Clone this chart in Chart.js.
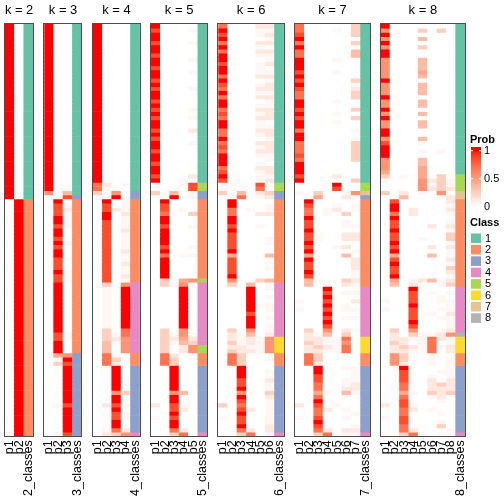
<!DOCTYPE html>
<html>
<head>
<meta charset="utf-8">
<script src="https://cdn.jsdelivr.net/npm/chart.js@4.4.1/dist/chart.umd.min.js"></script>
<style>
  html, body { margin: 0; padding: 0; background: #fff; }
  #wrap { position: relative; width: 504px; height: 504px; }
  #wrap canvas { position: absolute; left: 0; top: 0; }
</style>
</head>
<body>
<div id="wrap"></div>
<script>
// ---- data ----
// each row string holds one digit per column p1..pk, digit indexes PROB_LEVELS
// "pattern*n" means the row repeats n times
const PROB_LEVELS = [0, 0.04, 0.12, 0.25, 0.35, 0.45, 0.55, 0.7, 0.85, 1];
const N_ROWS = 99;

const classes_k2 = "111111111111111111111111111111111111111111" + "222222222222222222222222222222222222222222222222222222222";
const classes_k3 = "11111111111111111111111111111111111111111" + "3" + "2222222222222222222222222222222222222" + "33333333333333333333";
const classes_k4 = "1111111111111111111111111111111111111111" + "33" + "22222222222222222222" + "44444444444444444" + "222" + "3333333333333333" + "4";
const classes_k5 = "11111111111111111111111111111111111111" + "55" + "33" + "2222222222222222222" + "5" + "444444444444444" + "55" + "222" + "3333333333333333" + "4";
const classes_k6 = "11111111111111111111111111111111111111" + "55" + "33" + "22222222222222222222" + "4444444444444" + "6666" + "222" + "3333333333333333" + "4";
const classes_k7 = "11111111111111111111111111111111111111" + "55" + "7" + "3" + "222222222222222222222" + "444444444444" + "6666" + "222" + "3333333333333333" + "4";
const classes_k8 = "111111111111111111111111111111111111" + "5555" + "77" + "222222222222222222222" + "44444444444" + "8" + "6666" + "222" + "3333333333333333" + "4";

const probs_k2 = ["90*42", "09*57"];

const probs_k3 = [
  "900*40", "604", "008",
  "090", "081", "082", "081", "091", "091", "081", "090", "090", "080",
  "091", "080", "090", "090", "081", "080", "080", "091", "081", "081",
  "090*12",
  "081", "081", "090", "090", "090",
  "056", "019", "038",
  "009*9", "018", "009*6", "018"
];

const probs_k4 = [
  "9000*38", "7201", "7100", "3060", "0090",
  "0901", "0801", "0821", "0902", "0901", "0801", "0801", "0802", "0801", "0801",
  "0801", "0801", "0802", "0801", "0801", "0802", "0801", "0801", "0802", "0801",
  "0306",
  "0109*10",
  "0307", "0317", "0326", "0416", "0406", "0406",
  "0710", "0730", "0720",
  "0090*6",
  "0063", "0090", "0090", "0281", "0090", "0081", "0081", "0090", "0090", "0172",
  "0236"
];

const probs_k5 = [
  "90000", "80001", "90000", "90000", "80001", "90000", "90000", "80000", "90001", "90000",
  "80000", "90001", "90000", "80000", "90000", "80001", "90000", "90000", "80000", "90000",
  "80001", "90000", "80001", "90000", "90000", "80002", "90000", "80000", "90001", "90000",
  "80000", "90000", "90000", "80000", "90000", "90000", "80002", "90010",
  "10018", "10008", "30401", "00901",
  "09000", "08000", "08010", "07003", "09000", "09000", "08001", "09000", "09000", "09000",
  "09000", "08001", "09000", "07011", "09000", "09000", "09000", "09000", "09000",
  "03056", "03160",
  "00090*10",
  "03060", "03161", "03252", "03143",
  "03026", "03026",
  "07200", "07300", "07300",
  "00900*6",
  "00640", "00900", "00900", "20810", "00820", "00900", "10800", "00900", "00900", "00720",
  "00370"
];

const probs_k6 = [
  "700022", "900011", "800012", "900001", "700022", "900010", "700022", "900011", "900001", "800012",
  "900010", "900011", "700022", "900001", "800012", "700022", "900011", "700022", "900001", "900011",
  "700022", "800012", "700022", "900010", "900011", "700022", "700012", "900001", "700022", "800012",
  "700022", "900011", "900001", "900010", "700022", "800012", "900011", "800012",
  "110080", "110070", "304023", "007012",
  "090000", "090001", "070101", "070022", "090000", "090000", "080010", "090000", "080000", "080001",
  "080001", "080000", "090000", "050004", "080000", "080001", "080001", "080000", "090000", "060034",
  "030401",
  "000901", "000900", "000901", "000900", "000911", "000901", "000800", "000901", "000900", "000901",
  "030601", "021402",
  "021216", "031216", "022116", "032216",
  "073000", "073001", "073000",
  "009000", "009001", "009001", "008002", "008001", "009001", "006103", "009002", "008001", "307001",
  "008201", "009001", "108001", "008001", "009002", "007202", "003701"
];

const probs_k7 = [
  "7000003", "7000103", "8000003", "9000000", "7000003", "9000000", "7000004", "7000004", "9000100", "9000000",
  "9000000", "8000100", "9000000", "8000003", "9000001", "8000002", "7000003", "7000003", "9000100", "9000000",
  "8000003", "9000100", "8000003", "9000100", "9000000", "7000001", "9000000", "9000001", "7000003", "7000003",
  "7000003", "8000003", "7000003", "9000000", "9000000", "9000000", "8000200", "9000003",
  "0000900", "0000800", "1030016", "0050021",
  "0900000", "0800101", "0701201", "0701030", "0900000", "0800010", "0800011", "0900000", "0810022", "0810022",
  "0900000", "0800120", "0900001", "0500040", "0900002", "0800002", "0800002", "0900001", "0800001", "0410032",
  "0401021",
  "0009000", "0008011", "0009000", "1008002", "0009010", "1008011", "0009000", "0008011", "0009000", "0008000",
  "0306021", "0214030",
  "0221170", "0321160", "0232170", "0221170",
  "0730000", "0730000", "0720000",
  "0090011", "0090001", "0080001", "0080011", "0070012", "0070022", "0051041", "0070010", "0090000", "2080100",
  "0072010", "0070001", "1080010", "0090000", "0080001", "0072022", "0037011"
];

const probs_k8 = [
  "90000000", "60003030", "90000000", "60004000", "90000000", "60003000", "90000000", "90000000", "60004000", "60004000",
  "60004000", "60005000", "60004000", "90000000", "60004000", "60004000", "60004000", "90000000", "60004000", "60004000",
  "90000000", "60004000", "90000000", "60004000", "60004000", "90000000", "90000000", "60004000", "80001000", "90000000",
  "90001010", "90000000", "60004000", "60004000", "60005000", "50005000",
  "30105030", "10006231", "00006131", "00006232", "30201060", "00400012",
  "08000002", "09000001", "09020002", "07020001", "09000000", "08000001", "08000202", "09000001", "08000003", "08001003",
  "09000001", "08000202", "09000001", "05000401", "08000002", "09000001", "08000003", "08000002", "09000001", "05012412",
  "04020013",
  "00090000", "00080101", "00080010", "10080011", "00090001", "10080011", "00080102", "00080011", "00090001", "00080001",
  "03060012",
  "02031126",
  "02211721", "03201701", "02321712", "02211702",
  "06300100", "06300101", "06200101",
  "00900001", "00800011", "00800101", "00800202", "00700232", "00700222", "00510323", "00700120", "00800010", "20810000",
  "00720100", "00700010", "10800000", "00800010", "00700030", "00720001", "00370011"
];

const CLASS_COLORS = {
  1: "#66C2A5", 2: "#FC8D62", 3: "#8DA0CB", 4: "#E78AC3",
  5: "#A6D854", 6: "#FFD92F", 7: "#E5C494", 8: "#B3B3B3"
};
const CLASS_IDS = [1, 2, 3, 4, 5, 6, 7, 8];
const PROB_TICKS = ["1", "0.5", "0"];

const PANELS = [
  { k: 2, probs: probs_k2, classes: classes_k2 },
  { k: 3, probs: probs_k3, classes: classes_k3 },
  { k: 4, probs: probs_k4, classes: classes_k4 },
  { k: 5, probs: probs_k5, classes: classes_k5 },
  { k: 6, probs: probs_k6, classes: classes_k6 },
  { k: 7, probs: probs_k7, classes: classes_k7 },
  { k: 8, probs: probs_k8, classes: classes_k8 },
];

// ---- layout ----
const FONT = "'Liberation Sans', Arial, sans-serif";
const PANEL_LEFT = [5, 44.3, 93, 151, 218.3, 295, 380.7];
const COL_W = 9.37;
const PANEL_TOP = 24.1;
const PANEL_BOTTOM = 436.3;

function expand(list) {
  const out = [];
  list.forEach((tok) => {
    const parts = tok.split("*");
    const n = parts.length > 1 ? parseInt(parts[1], 10) : 1;
    for (let i = 0; i < n; i++) out.push(parts[0]);
  });
  return out;
}

// white -> red, interpolated in LAB like colorRamp2
function labToRgb(L, a, b) {
  const fy = (L + 16) / 116, fx = fy + a / 500, fz = fy - b / 200;
  const inv = (t) => (t * t * t > 0.008856 ? t * t * t : (t - 16 / 116) / 7.787);
  const X = 0.95047 * inv(fx), Y = inv(fy), Z = 1.08883 * inv(fz);
  const lin = [
    3.2404542 * X - 1.5371385 * Y - 0.4985314 * Z,
    -0.969266 * X + 1.8760108 * Y + 0.041556 * Z,
    0.0556434 * X - 0.2040259 * Y + 1.0572252 * Z,
  ];
  return lin.map((c) => {
    c = Math.max(0, Math.min(1, c));
    const s = c <= 0.0031308 ? 12.92 * c : 1.055 * Math.pow(c, 1 / 2.4) - 0.055;
    return Math.round(Math.max(0, Math.min(1, s)) * 255);
  });
}
function probColor(v) {
  const L = 100 + (53.2408 - 100) * v;
  const a = 80.0925 * v;
  const b = 67.2032 * v;
  const [r, g, bl] = labToRgb(L, a, b);
  return `rgb(${r},${g},${bl})`;
}

const frame = {
  id: "frame",
  afterDatasetsDraw(chart) {
    const { ctx, chartArea: a } = chart;
    ctx.save();
    ctx.strokeStyle = "#4d4d4d";
    ctx.lineWidth = 1;
    ctx.strokeRect(Math.round(a.left) - 0.5, Math.round(a.top) - 0.5,
      Math.round(a.right - a.left) + 1, Math.round(a.bottom - a.top) + 1);
    ctx.restore();
  },
};

const legendPlugin = {
  id: "sideLegend",
  afterDraw(chart) {
    const ctx = chart.ctx;
    ctx.save();
    ctx.fillStyle = "#000";
    ctx.textBaseline = "middle";
    ctx.textAlign = "left";
    ctx.font = `bold 11px ${FONT}`;
    ctx.fillText("Prob", 470, 140);
    // colour bar
    const top = 147, y1 = 150.7, y0 = 206.7, x = 471, w = 10;
    for (let y = top; y < y0; y++) {
      const v = Math.max(0, Math.min(1, (y0 - (y + 0.5)) / (y0 - y1)));
      ctx.fillStyle = probColor(v);
      ctx.fillRect(x, y, w, 1);
    }
    ctx.strokeStyle = "#fff";
    ctx.lineWidth = 1;
    [y1, (y0 + y1) / 2].forEach((ty) => {
      ctx.beginPath();
      ctx.moveTo(x, ty); ctx.lineTo(x + 2, ty);
      ctx.moveTo(x + w - 2, ty); ctx.lineTo(x + w, ty);
      ctx.stroke();
    });
    ctx.fillStyle = "#000";
    ctx.font = `11px ${FONT}`;
    const tickY = [y1, (y0 + y1) / 2, y0];
    PROB_TICKS.forEach((t, i) => ctx.fillText(t, 484, tickY[i]));
    // class legend
    ctx.font = `bold 11px ${FONT}`;
    ctx.fillText("Class", 470, 223);
    ctx.font = `11px ${FONT}`;
    CLASS_IDS.forEach((c, i) => {
      const sy = 233.5 + i * 11.4;
      ctx.fillStyle = CLASS_COLORS[c];
      ctx.fillRect(471, sy, 10, 9.6);
      ctx.fillStyle = "#000";
      ctx.fillText(String(c), 485, sy + 5);
    });
    ctx.restore();
  },
};

function buildPanel(panel, idx) {
  const k = panel.k;
  const rows = expand(panel.probs);
  const labels = [];
  for (let j = 1; j <= k; j++) labels.push("p" + j);
  labels.push(k + "_classes");

  const datasets = rows.map((row, r) => ({
    label: "row " + (r + 1),
    data: labels.map(() => 1),
    backgroundColor: labels.map((_, j) =>
      j < k ? probColor(PROB_LEVELS[+row[j]]) : CLASS_COLORS[panel.classes[r]]
    ),
    borderWidth: 0,
    barPercentage: 1,
    categoryPercentage: 1,
  }));

  const canvas = document.createElement("canvas");
  canvas.width = 504;
  canvas.height = 504;
  document.getElementById("wrap").appendChild(canvas);

  const left = PANEL_LEFT[idx];
  const right = left + COL_W * (k + 1);

  return new Chart(canvas.getContext("2d"), {
    type: "bar",
    data: { labels, datasets },
    options: {
      responsive: false,
      animation: false,
      devicePixelRatio: 1,
      layout: { padding: { left: left, right: 504 - right, top: 0, bottom: 0 } },
      plugins: {
        legend: { display: false },
        tooltip: { enabled: false },
        title: {
          display: true,
          text: "k = " + k,
          fullSize: false,
          color: "#000",
          font: { family: FONT, size: 13, weight: "normal", lineHeight: 1.2 },
          padding: { top: 3, bottom: PANEL_TOP - 3 - 13 * 1.2 },
        },
      },
      scales: {
        x: {
          stacked: true,
          grid: { display: false, drawTicks: false },
          border: { display: false },
          ticks: {
            autoSkip: false,
            maxRotation: 90,
            minRotation: 90,
            padding: 4,
            color: "#000",
            font: { family: FONT, size: 12.5 },
          },
          afterFit(scale) {
            scale.height = 504 - PANEL_BOTTOM;
          },
        },
        y: {
          stacked: true,
          display: false,
          reverse: true,
          min: 0,
          max: N_ROWS,
        },
      },
    },
    plugins: idx === PANELS.length - 1 ? [frame, legendPlugin] : [frame],
  });
}

PANELS.forEach((p, i) => buildPanel(p, i));
</script>
</body>
</html>
